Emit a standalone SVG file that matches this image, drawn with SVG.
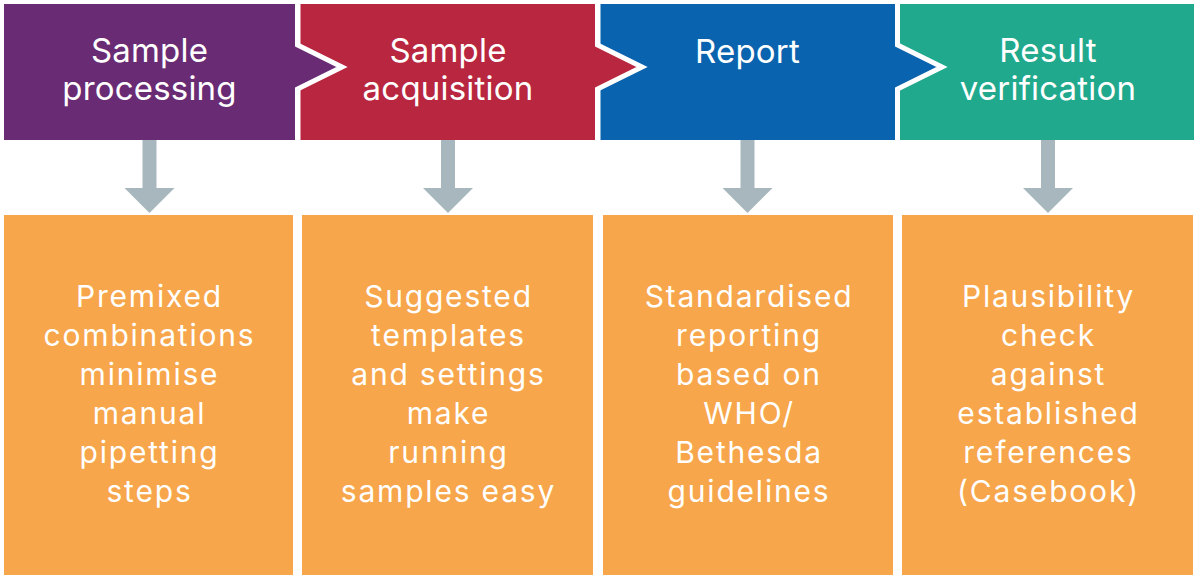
<svg xmlns="http://www.w3.org/2000/svg" width="1200" height="584" viewBox="0 0 1200 584">
<style>
.hd{stroke:#fff;stroke-width:5;stroke-linejoin:miter}
.ht{font-family:Inter,"Liberation Sans",sans-serif;font-size:33px;fill:#fff;text-anchor:middle;letter-spacing:0.2px}
.bx{fill:#f7a64b}
.bt{font-family:Inter,"Liberation Sans",sans-serif;font-size:30px;fill:#fff;text-anchor:middle;letter-spacing:1.8px}
.ar{fill:#a8b7be}
</style>
<rect width="1200" height="584" fill="#fff"/>
<g id="head-verification">
<rect x="898" y="4" width="296" height="136" fill="#21a98d"/>
<text class="ht" x="1048" y="62">Result</text>
<text class="ht" x="1048" y="100">verification</text>
</g>
<g id="head-report">
<polygon class="hd" fill="#0a63ae" points="598,1.5 897.5,1.5 897.5,45 942,67 897.5,89 897.5,142.5 598,142.5"/>
<text class="ht" x="747.5" y="63">Report</text>
</g>
<g id="head-acquisition">
<polygon class="hd" fill="#b8263f" points="298,1.5 597.5,1.5 597.5,45 642,67 597.5,89 597.5,142.5 298,142.5"/>
<text class="ht" x="448" y="62">Sample</text>
<text class="ht" x="448" y="100">acquisition</text>
</g>
<g id="head-processing">
<polygon class="hd" fill="#6a2b75" points="1.5,1.5 297.5,1.5 297.5,45 342,67 297.5,89 297.5,142.5 1.5,142.5"/>
<text class="ht" x="149.5" y="62">Sample</text>
<text class="ht" x="149.5" y="100">processing</text>
</g>
<g id="connectors">
<polygon class="ar" points="142.5,140 156.5,140 156.5,188 174.5,188 149.5,213 124.5,188 142.5,188"/>
<polygon class="ar" points="441,140 455,140 455,188 473,188 448,213 423,188 441,188"/>
<polygon class="ar" points="740.5,140 754.5,140 754.5,188 772.5,188 747.5,213 722.5,188 740.5,188"/>
<polygon class="ar" points="1041,140 1055,140 1055,188 1073,188 1048,213 1023,188 1041,188"/>
</g>
<g id="box-processing">
<rect class="bx" x="4" y="215" width="289" height="360"/>
<text class="bt" x="149.5" y="307">Premixed</text>
<text class="bt" x="149.5" y="346">combinations</text>
<text class="bt" x="149.5" y="385">minimise</text>
<text class="bt" x="149.5" y="424">manual</text>
<text class="bt" x="149.5" y="463">pipetting</text>
<text class="bt" x="149.5" y="502">steps</text>
</g>
<g id="box-acquisition">
<rect class="bx" x="302" y="215" width="291" height="360"/>
<text class="bt" x="448.5" y="307">Suggested</text>
<text class="bt" x="448.5" y="346">templates</text>
<text class="bt" x="448.5" y="385">and settings</text>
<text class="bt" x="448.5" y="424">make</text>
<text class="bt" x="448.5" y="463">running</text>
<text class="bt" x="448.5" y="502">samples easy</text>
</g>
<g id="box-report">
<rect class="bx" x="603" y="215" width="290" height="360"/>
<text class="bt" x="749" y="307">Standardised</text>
<text class="bt" x="749" y="346">reporting</text>
<text class="bt" x="749" y="385">based on</text>
<text class="bt" x="749" y="424">WHO/</text>
<text class="bt" x="749" y="463">Bethesda</text>
<text class="bt" x="749" y="502">guidelines</text>
</g>
<g id="box-verification">
<rect class="bx" x="902" y="215" width="291" height="360"/>
<text class="bt" x="1048.5" y="307">Plausibility</text>
<text class="bt" x="1048.5" y="346">check</text>
<text class="bt" x="1048.5" y="385">against</text>
<text class="bt" x="1048.5" y="424">established</text>
<text class="bt" x="1048.5" y="463">references</text>
<text class="bt" x="1048.5" y="502">(Casebook)</text>
</g>
</svg>
